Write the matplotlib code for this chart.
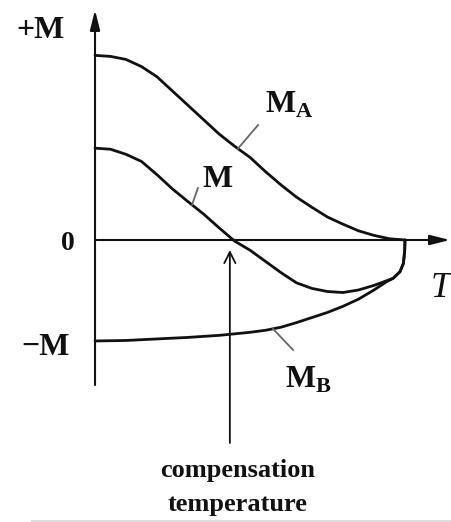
import numpy as np
import matplotlib
matplotlib.use("Agg")
import matplotlib.pyplot as plt
from matplotlib.lines import Line2D

plt.rcParams["font.family"] = ["Liberation Serif", "DejaVu Serif"]
plt.rcParams["mathtext.fontset"] = "custom"
plt.rcParams["mathtext.rm"] = "Liberation Serif"
plt.rcParams["mathtext.bf"] = "Liberation Serif:bold"

# Temperature scaled so that T = 1 is the Curie point; M in units of |M_B(0)|
T_A = [0, .05, .1, .15, .2, .25, .3, .35, .4, .45, .5, .55, .6, .65, .7,
       .75, .8, .85, .9, .95, 1.0]
M_A = [1.81, 1.80, 1.77, 1.70, 1.60, 1.46, 1.32, 1.18, 1.04, 0.92, 0.81,
       0.67, 0.54, 0.42, 0.32, 0.225, 0.155, 0.09, 0.045, 0.012, 0.0]

T_M = [0, .05, .1, .15, .2, .25, .3, .35, .4, .45, .5, .55, .6, .65, .7,
       .75, .8, .85, .9, .94, .962, .984, .995, .999, 1.0]
M_NET = [0.90, 0.89, 0.84, 0.77, 0.64, 0.50, 0.376, 0.255, 0.12, -0.01,
         -0.10, -0.21, -0.32, -0.42, -0.475, -0.505, -0.515, -0.49, -0.445,
         -0.40, -0.375, -0.31, -0.228, -0.10, 0.0]

T_B = [0, .1, .2, .3, .4, .5, .55, .6, .65, .7, .75, .8, .85, .9, .94,
       .962, .984, .995, .999, 1.0]
M_B = [-0.99, -0.985, -0.97, -0.955, -0.935, -0.905, -0.885, -0.855, -0.81,
       -0.76, -0.71, -0.65, -0.58, -0.49, -0.41, -0.375, -0.31, -0.228,
       -0.10, 0.0]

T_COMP = 0.435  # compensation temperature marker

fig = plt.figure(figsize=(4.52, 5.22), dpi=100)
ax = fig.add_axes([0, 0, 1, 1])
ax.set_xlim(-0.3065, 1.1516)
ax.set_ylim(-2.7647, 2.3529)
ax.axis("off")

ink = "#111111"
lead = "#666666"

# axes with arrow heads
axis_arrow = dict(arrowstyle="-|>,head_length=0.6,head_width=0.15",
                  color=ink, lw=1.5, mutation_scale=20,
                  shrinkA=0, shrinkB=0)
ax.annotate("", xy=(0, 2.255), xytext=(0, -1.422), arrowprops=axis_arrow)
ax.annotate("", xy=(1.145, 0), xytext=(0, 0), arrowprops=axis_arrow)

# curves
for t, m in [(T_A, M_A), (T_M, M_NET), (T_B, M_B)]:
    ax.plot(t, m, color=ink, lw=2.0, solid_joinstyle="round",
            solid_capstyle="round")

# leader lines from labels to curves
ax.plot([0.526, 0.461], [1.127, np.interp(0.461, T_A, M_A)], color=lead, lw=1.3)
ax.plot([0.332, 0.313], [0.51, np.interp(0.313, T_M, M_NET)], color=lead, lw=1.3)
ax.plot([0.574, 0.639], [np.interp(0.574, T_B, M_B), -1.078], color=lead, lw=1.3)

# labels
lab = dict(fontsize=23, fontweight="bold", color=ink, va="baseline")
ax.text(-0.097, 1.98, "+M", ha="right", **lab)
ax.text(-0.064, -0.098, "0", ha="right", **{**lab, "fontsize": 20})
ax.text(-0.081, -1.127, "\u2212M", ha="right", **lab)
ax.text(1.149, -0.559, "T", ha="right", fontsize=26, fontstyle="italic",
        color=ink, va="baseline")
ax.text(0.548, 1.245, r"$\mathbf{M}_{\mathbf{A}}$", ha="left", fontsize=23,
        color=ink, va="baseline")
ax.text(0.345, 0.52, r"$\mathbf{M}$", ha="left", fontsize=23,
        color=ink, va="baseline")
ax.text(0.613, -1.451, r"$\mathbf{M}_{\mathbf{B}}$", ha="left", fontsize=23,
        color=ink, va="baseline")

# compensation temperature pointer
ax.annotate("", xy=(T_COMP, -0.098), xytext=(T_COMP, -1.99),
            arrowprops=dict(arrowstyle="->,head_length=0.4,head_width=0.2",
                            color=ink, lw=1.3, mutation_scale=20,
                            shrinkA=0, shrinkB=0))
cap = dict(ha="center", va="baseline", fontsize=19, fontweight="bold",
           color=ink)
ax.text(0.46, -2.32, "compensation", **cap)
ax.text(0.46, -2.655, "temperature", **cap)

fig.add_artist(Line2D([0.07, 1.0], [0.002, 0.002], transform=fig.transFigure,
                      color="#dddddd", lw=1.5))

fig.savefig("out.png", dpi=100)
